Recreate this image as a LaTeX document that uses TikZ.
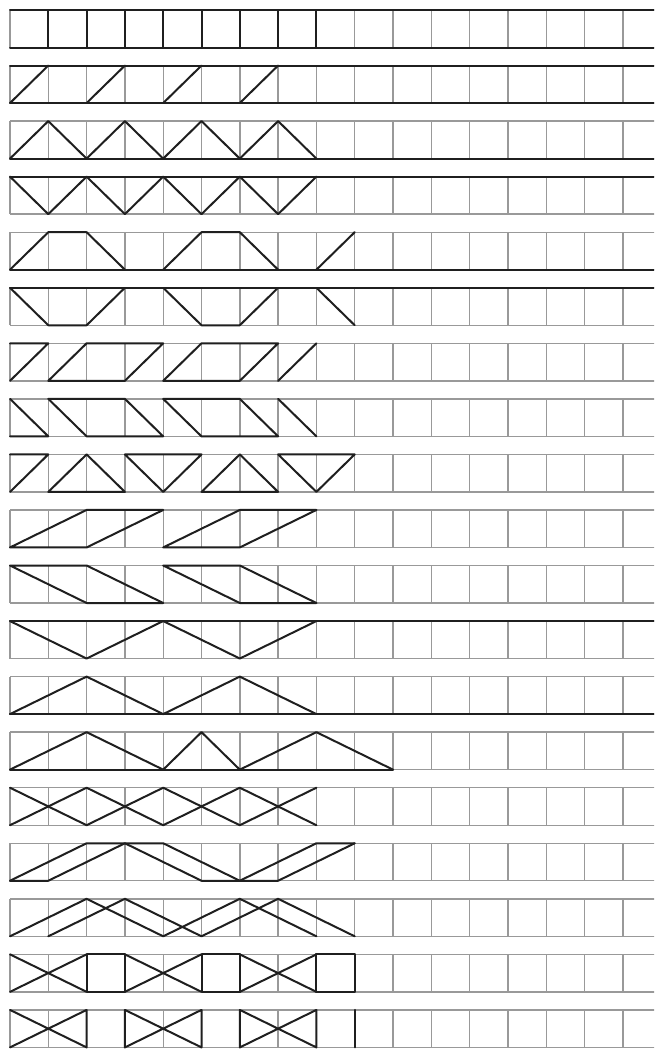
\documentclass[tikz,border=0pt]{standalone}
\begin{document}
\begin{tikzpicture}[x=1pt,y=1pt,
  gridline/.style={draw=black!40,line width=1.4pt},
  dark/.style={draw=black!88,line width=2pt,line join=round,line cap=round}]
\clip (0,0) rectangle (654,-1052);
\fill[white] (0,0) rectangle (654,-1052);
% named grid points: t<row>-<col>, b<row>-<col>
\foreach \r in {0,...,18}{
  \foreach \i in {0,...,17}{
    \coordinate (t\r-\i) at ({10+38.3*\i},{-10-55.55*\r});
    \coordinate (b\r-\i) at ({10+38.3*\i},{-47.5-55.55*\r});
  }
}
% grey grid
\foreach \r in {0,...,18}{
  \draw[gridline] (t\r-0) -- (t\r-17);
  \draw[gridline] (b\r-0) -- (b\r-17);
  \foreach \i in {0,...,16}{ \draw[gridline] (t\r-\i) -- (b\r-\i); }
}
% row 1
\draw[dark] (t0-0) -- (t0-17);
\draw[dark] (b0-0) -- (b0-17);
\foreach \i in {1,...,8}{ \draw[dark] (t0-\i) -- (b0-\i); }
% row 2
\draw[dark] (t1-0) -- (t1-17);
\draw[dark] (b1-0) -- (b1-17);
\draw[dark] (b1-0) -- (t1-1) (b1-2) -- (t1-3) (b1-4) -- (t1-5) (b1-6) -- (t1-7);
% row 3
\draw[dark] (b2-0) -- (b2-17);
\draw[dark] (b2-0) -- (t2-1) -- (b2-2) -- (t2-3) -- (b2-4) -- (t2-5) -- (b2-6) -- (t2-7) -- (b2-8);
% row 4
\draw[dark] (t3-0) -- (t3-17);
\draw[dark] (t3-0) -- (b3-1) -- (t3-2) -- (b3-3) -- (t3-4) -- (b3-5) -- (t3-6) -- (b3-7) -- (t3-8);
% row 5
\draw[dark] (b4-0) -- (b4-17);
\draw[dark] (b4-0) -- (t4-1) -- (t4-2) -- (b4-3);
\draw[dark] (b4-4) -- (t4-5) -- (t4-6) -- (b4-7);
\draw[dark] (b4-8) -- (t4-9);
% row 6
\draw[dark] (t5-0) -- (t5-17);
\draw[dark] (t5-0) -- (b5-1) -- (b5-2) -- (t5-3);
\draw[dark] (t5-4) -- (b5-5) -- (b5-6) -- (t5-7);
\draw[dark] (t5-8) -- (b5-9);
% row 7
\draw[dark] (t6-0) -- (t6-1) -- (b6-0);
\draw[dark] (b6-1) -- (t6-2) -- (t6-4) -- (b6-3) -- cycle;
\draw[dark] (b6-4) -- (t6-5) -- (t6-7) -- (b6-6) -- cycle;
\draw[dark] (b6-7) -- (t6-8);
% row 8
\draw[dark] (t7-0) -- (b7-1) -- (b7-0);
\draw[dark] (t7-1) -- (t7-3) -- (b7-4) -- (b7-2) -- cycle;
\draw[dark] (t7-4) -- (t7-6) -- (b7-7) -- (b7-5) -- cycle;
\draw[dark] (t7-7) -- (b7-8);
% row 9
\draw[dark] (t8-0) -- (t8-1) -- (b8-0);
\draw[dark] (b8-1) -- (t8-2) -- (b8-3) -- cycle;
\draw[dark] (t8-3) -- (t8-5) -- (b8-4) -- cycle;
\draw[dark] (b8-5) -- (t8-6) -- (b8-7) -- cycle;
\draw[dark] (t8-7) -- (t8-9) -- (b8-8) -- cycle;
% row 10
\draw[dark] (b9-0) -- (t9-2) -- (t9-4) -- (b9-2) -- cycle;
\draw[dark] (b9-4) -- (t9-6) -- (t9-8) -- (b9-6) -- cycle;
% row 11
\draw[dark] (t10-0) -- (b10-2) -- (b10-4) -- (t10-2) -- cycle;
\draw[dark] (t10-4) -- (b10-6) -- (b10-8) -- (t10-6) -- cycle;
% row 12
\draw[dark] (t11-0) -- (t11-17);
\draw[dark] (t11-0) -- (b11-2) -- (t11-4) -- (b11-6) -- (t11-8);
% row 13
\draw[dark] (b12-0) -- (b12-17);
\draw[dark] (b12-0) -- (t12-2) -- (b12-4) -- (t12-6) -- (b12-8);
% row 14
\draw[dark] (b13-0) -- (b13-10);
\draw[dark] (b13-0) -- (t13-2) -- (b13-4) -- (t13-5) -- (b13-6) -- (t13-8) -- (b13-10);
% row 15
\draw[dark] (t14-0) -- (b14-2) -- (t14-4) -- (b14-6) -- (t14-8);
\draw[dark] (b14-0) -- (t14-2) -- (b14-4) -- (t14-6) -- (b14-8);
% row 16
\draw[dark] (b15-0) -- (t15-2) -- (t15-4) -- (b15-6) -- (t15-8) -- (t15-9);
\draw[dark] (b15-0) -- (b15-1) -- (t15-3) -- (b15-5) -- (b15-7) -- (t15-9);
% row 17
\draw[dark] (b16-0) -- (t16-2) -- (b16-4) -- (t16-6) -- (b16-8);
\draw[dark] (b16-1) -- (t16-3) -- (b16-5) -- (t16-7) -- (b16-9);
% row 18
\draw[dark] (t17-0) -- (b17-2) (b17-0) -- (t17-2);
\draw[dark] (t17-2) rectangle (b17-3);
\draw[dark] (t17-3) -- (b17-5) (b17-3) -- (t17-5);
\draw[dark] (t17-5) rectangle (b17-6);
\draw[dark] (t17-6) -- (b17-8) (b17-6) -- (t17-8);
\draw[dark] (t17-8) rectangle (b17-9);
% row 19
\draw[dark] (t18-0) -- (b18-2) -- (t18-2) -- (b18-0);
\draw[dark] (t18-3) -- (b18-5) -- (t18-5) -- (b18-3) -- cycle;
\draw[dark] (t18-6) -- (b18-8) -- (t18-8) -- (b18-6) -- cycle;
\draw[dark] (t18-9) -- (b18-9);
\end{tikzpicture}
\end{document}
